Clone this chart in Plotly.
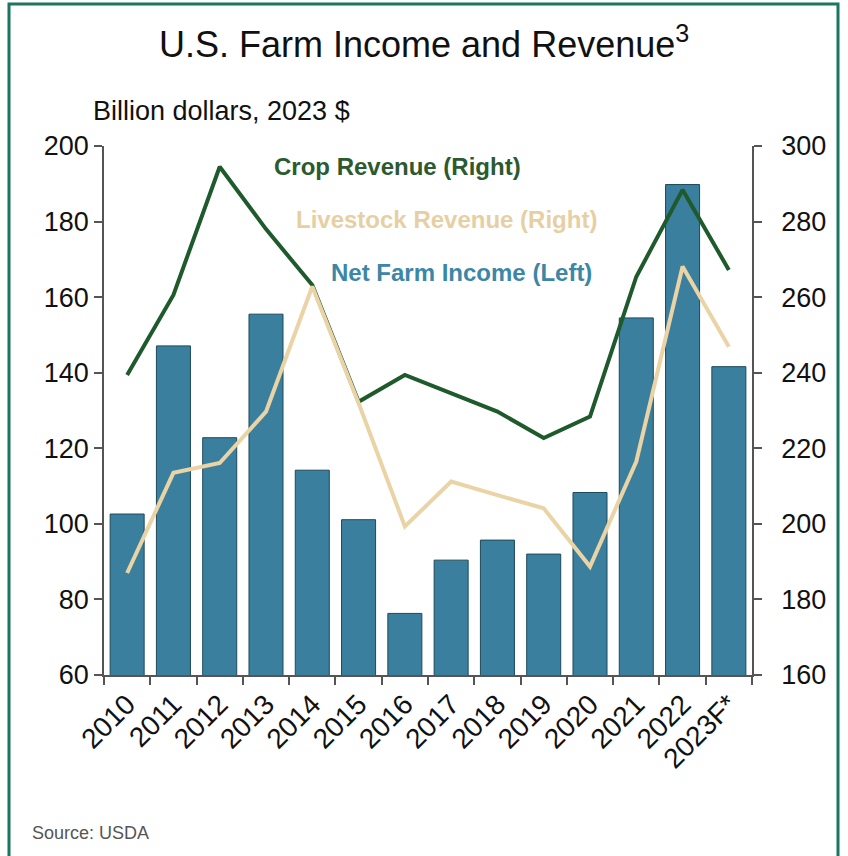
import plotly.graph_objects as go

years = ["2010", "2011", "2012", "2013", "2014", "2015", "2016", "2017",
         "2018", "2019", "2020", "2021", "2022", "2023F*"]
net_farm_income = [102.6, 147.1, 122.8, 155.5, 114.2, 101.1, 76.3, 90.4,
                   95.7, 92.0, 108.3, 154.5, 189.8, 141.6]
crop_revenue = [239.4, 260.6, 294.5, 278.0, 263.2, 232.3, 239.4, 234.6,
                229.7, 222.7, 228.4, 265.4, 288.4, 267.2]
livestock_revenue = [187.0, 213.5, 216.1, 229.7, 262.8, 232.0, 199.3, 211.2,
                     207.6, 204.1, 188.7, 216.5, 268.1, 246.9]

left_ticks = [60, 80, 100, 120, 140, 160, 180, 200]
right_ticks = [160, 180, 200, 220, 240, 260, 280, 300]

BAR = "#3a7f9d"
CROP = "#1f5a2c"
LIVE = "#ead4a6"
AX = "#555555"
SANS = "Liberation Sans, Arial, sans-serif"

fig = go.Figure()
fig.add_trace(go.Bar(x=years, y=net_farm_income, yaxis="y",
                     marker=dict(color=BAR, line=dict(color="#1d4a5c", width=1)),
                     name="Net Farm Income (Left)"))
fig.add_trace(go.Scatter(x=years, y=crop_revenue, yaxis="y2", mode="lines",
                         line=dict(color=CROP, width=4), name="Crop Revenue (Right)"))
fig.add_trace(go.Scatter(x=years, y=livestock_revenue, yaxis="y2", mode="lines",
                         line=dict(color=LIVE, width=4), name="Livestock Revenue (Right)"))

fig.update_layout(
    width=848, height=856,
    margin=dict(l=104, r=96, t=146, b=181),
    paper_bgcolor="white", plot_bgcolor="white",
    showlegend=False,
    bargap=0.265,
    font=dict(family=SANS, color="#111111"),
    xaxis=dict(type="category", tickson="boundaries", ticks="outside", ticklen=8,
               tickcolor=AX, tickwidth=1.5, showline=True, linecolor=AX, linewidth=1.5,
               showgrid=False, tickangle=-45,
               tickfont=dict(size=28, family=SANS, color="#111111")),
    yaxis=dict(range=[60, 200], tickvals=left_ticks, ticks="outside", ticklen=8,
               tickcolor=AX, tickwidth=1.5, showline=True, linecolor=AX, linewidth=1.5,
               showgrid=False, zeroline=False,
               tickfont=dict(size=27, family=SANS, color="#111111")),
    yaxis2=dict(range=[160, 300], tickvals=right_ticks, overlaying="y", side="right",
                ticks="outside", ticklen=8, tickcolor=AX, tickwidth=1.5,
                showline=True, linecolor=AX, linewidth=1.5, showgrid=False,
                zeroline=False, ticklabelstandoff=14,
                tickfont=dict(size=27, family=SANS, color="#111111")),
)

annotations = [
    dict(text="U.S. Farm Income and Revenue<sup>3</sup>", x=424, y=42,
         font=dict(size=36, family=SANS, color="#111111")),
    dict(text="Billion dollars, 2023 $", x=221, y=111,
         font=dict(size=27, family=SANS, color="#111111")),
    dict(text="<b>Crop Revenue (Right)</b>", x=397, y=166,
         font=dict(size=24, family=SANS, color="#2b5a2f")),
    dict(text="<b>Livestock Revenue (Right)</b>", x=446, y=219,
         font=dict(size=24, family=SANS, color="#e6d0a3")),
    dict(text="<b>Net Farm Income (Left)</b>", x=461, y=272,
         font=dict(size=24, family=SANS, color="#3c86a6")),
    dict(text="Source: USDA", x=30, y=833, xanchor="left",
         font=dict(size=18, family=SANS, color="#555555")),
]
pw, ph = 648.0, 529.0
for a in annotations:
    px, py = a.pop("x"), a.pop("y")
    fig.add_annotation(xref="paper", yref="paper",
                       x=(px - 104) / pw, y=(675 - py) / ph,
                       xanchor=a.pop("xanchor", "center"), yanchor="middle",
                       showarrow=False, **a)

fig.add_shape(type="rect", xref="paper", yref="paper",
              x0=(9 - 104) / pw, x1=(838 - 104) / pw,
              y0=(675 - 900) / ph, y1=(675 - 4) / ph,
              line=dict(color="#1b7560", width=3), fillcolor="rgba(0,0,0,0)",
              layer="below")

fig.write_html("out.html")
